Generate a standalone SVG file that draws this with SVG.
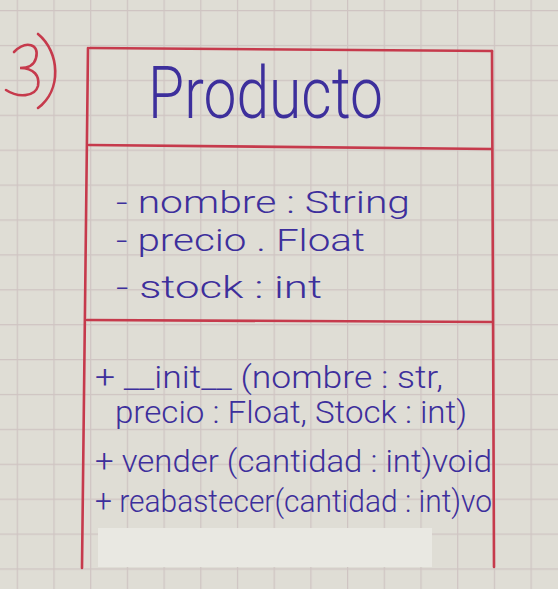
<svg xmlns="http://www.w3.org/2000/svg" width="558" height="589" viewBox="0 0 558 589">
  <defs>
    <pattern id="grid" patternUnits="userSpaceOnUse" x="16.7" y="10" width="36.7" height="34.9">
      <rect width="36.7" height="34.9" fill="#dfddd5"/>
      <path d="M0.6 0 V34.9 M0 0.6 H36.7" stroke="#cfc4c2" stroke-width="1.2" fill="none"/>
    </pattern>
    <style>
      .red { stroke: #c63a4c; stroke-width: 2.6; fill: none; stroke-linecap: round; }
      .ink { fill: #3d2f9c; font-family: "Roboto", "Liberation Sans", sans-serif; font-weight: 300; }
      .title { font-size: 72px; }
      .attr { font-size: 31px; }
      .meth { font-size: 32px; }
    </style>
  </defs>

  <!-- paper -->
  <rect width="558" height="589" fill="url(#grid)"/>

  <!-- exercise number -->
  <g id="number">
    <path class="red" d="M14 52 C26 40 40 44 36 58 C34 66 26 68 20 68 C34 68 40 76 38 86 C35 97 18 98 6 90"/>
    <path class="red" d="M38 34 C60 52 62 90 38 108"/>
  </g>

  <!-- class box -->
  <g id="producto">
    <path class="red" d="M90 48 L492 51"/>
    <path class="red" d="M88 48 L82 568"/>
    <path class="red" d="M492 51 L494 567"/>
    <path class="red" d="M89 145 L492 149"/>
    <path class="red" d="M87 320 L492 322"/>

    <!-- covered-over line at the bottom -->
    <rect x="98" y="528" width="334" height="39" fill="#e9e8e2"/>

    <text class="ink title" x="148" y="118" textLength="235" lengthAdjust="spacingAndGlyphs">Producto</text>

    <text class="ink attr" x="116" y="213" textLength="294" lengthAdjust="spacingAndGlyphs">- nombre : String</text>
    <text class="ink attr" x="116" y="251" textLength="249" lengthAdjust="spacingAndGlyphs">- precio . Float</text>
    <text class="ink attr" x="116" y="298" textLength="206" lengthAdjust="spacingAndGlyphs">- stock : int</text>

    <text class="ink meth" x="95" y="388" textLength="348" lengthAdjust="spacingAndGlyphs">+ __init__ (nombre : str,</text>
    <text class="ink meth" x="115" y="423" textLength="352" lengthAdjust="spacingAndGlyphs">precio : Float, Stock : int)</text>
    <text class="ink meth" x="95" y="472" textLength="397" lengthAdjust="spacingAndGlyphs">+ vender (cantidad : int)void</text>
    <text class="ink meth" x="95" y="512" textLength="397" lengthAdjust="spacingAndGlyphs">+ reabastecer(cantidad : int)vo</text>
  </g>
</svg>
